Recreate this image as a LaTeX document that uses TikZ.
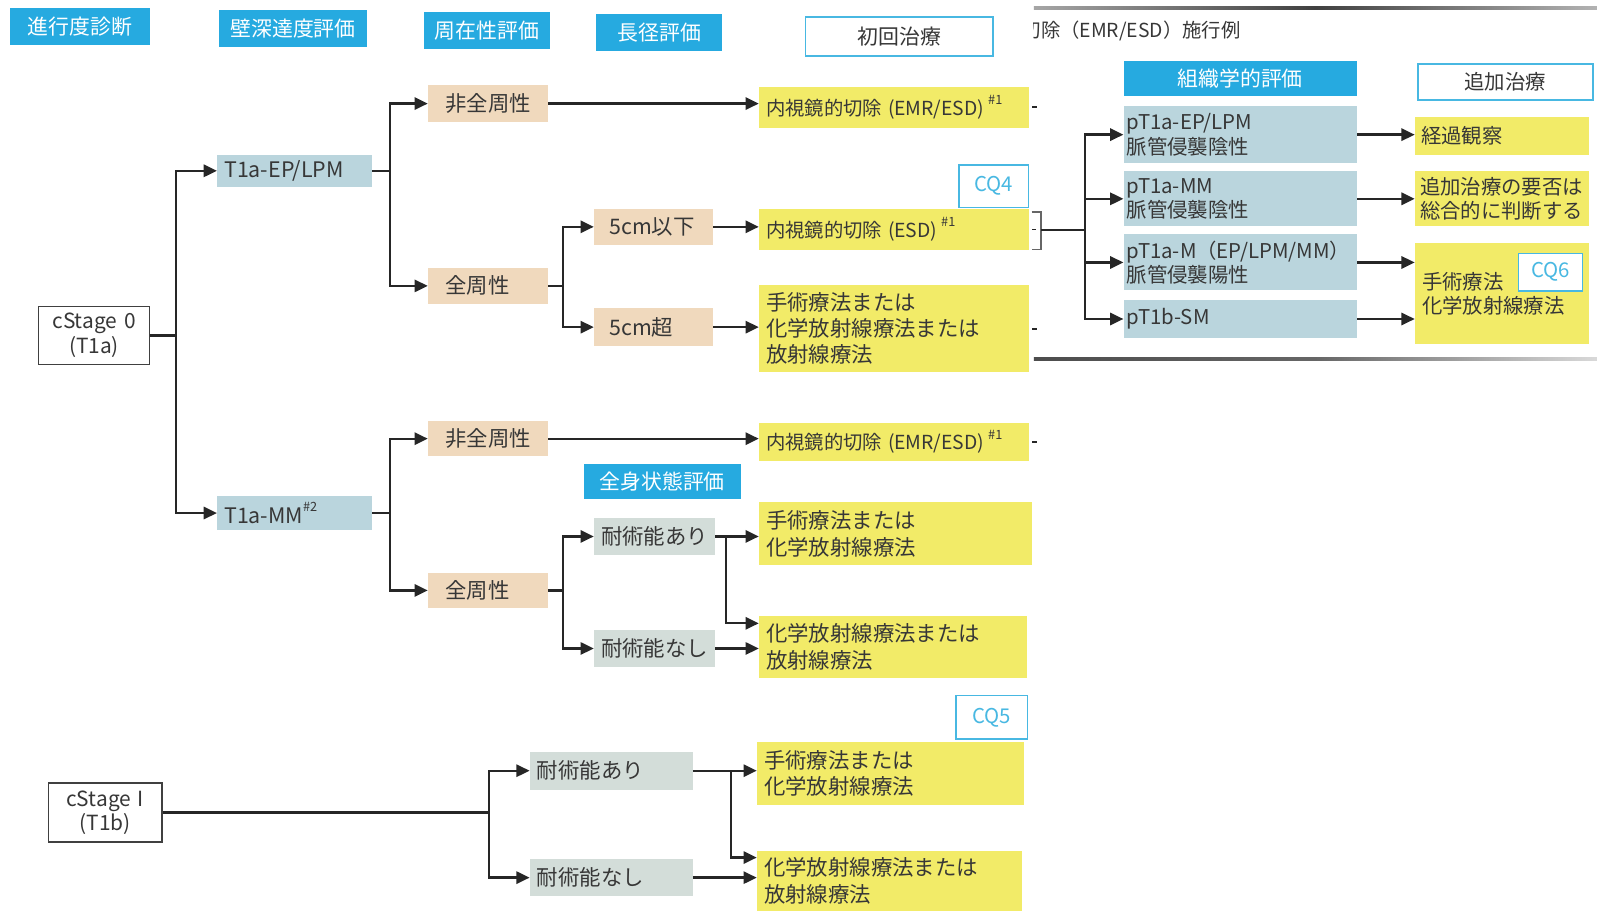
\documentclass[tikz,border=0pt]{standalone}
\usepackage{fontspec}
\newfontfamily\jp{Noto Sans CJK JP}
\usetikzlibrary{arrows.meta}
\definecolor{hdrc}{RGB}{38,170,224}
\definecolor{bgrc}{RGB}{186,213,221}
\definecolor{tanc}{RGB}{240,217,189}
\definecolor{ylwc}{RGB}{242,235,104}
\definecolor{gryc}{RGB}{211,221,217}
\definecolor{txtc}{RGB}{55,55,55}
\definecolor{cqc}{RGB}{72,184,226}
\newcommand\supmark[1]{\raisebox{0.55em}{\fontsize{12.5}{12.5}\selectfont #1}}
% name, x1, y1, x2, y2, pad, style, text
\newcommand\bx[8]{%
 \pgfmathsetmacro\bxw{#4-#2}\pgfmathsetmacro\bxh{#5-#3}\pgfmathsetmacro\bxt{#4-#2-2*#6}%
 \node[#7, anchor=north west, inner xsep=#6pt, inner ysep=0pt, minimum width=\bxw pt, minimum height=\bxh pt, text width=\bxt pt] (#1) at (#2,#3) {#8};}
\tikzset{
 fs/.style args={#1/#2}{font=\jp\fontsize{#1}{#2}\selectfont},
 basebox/.style={fs=21/26, text=txtc},
 hdrbox/.style={basebox, fill=hdrc, text=white, align=center, fs=20.5/24},
 rxbox/.style={basebox, draw=cqc, line width=1.8pt, fill=white, align=center, fs=20.5/24},
 stagebox/.style={basebox, draw=black!75, line width=1.6pt, fill=white, align=center, fs=20.5/24},
 tbox/.style={basebox, fill=bgrc, align=left},
 tanbox/.style={basebox, fill=tanc, align=left},
 gbox/.style={basebox, fill=gryc, align=left},
 ybox/.style={basebox, fill=ylwc, align=left},
 cqbox/.style={basebox, draw=cqc, line width=1.6pt, fill=white, text=cqc, align=center, fs=20/24},
 conn/.style={line width=2.3pt, draw=black!85, -{Triangle[length=13pt,width=12pt]}},
 wire/.style={line width=2.3pt, draw=black!85},
}
\begin{document}
\begin{tikzpicture}[x=1pt,y=-1pt]
\useasboundingbox (0,0) rectangle (1568,894);
\fill[white] (0,0) rectangle (1568,894);

% junction coordinates
\coordinate (j1) at (173,0);
\coordinate (j2) at (383,0);
\coordinate (j3) at (553,0);
\coordinate (j4) at (713,0);
\coordinate (j5) at (480,0);
\coordinate (j6) at (718,0);
\coordinate (j7) at (1065,0);

% headers
\bx{h1}{10}{8}{147}{44}{3}{hdrbox}{進行度診断}
\bx{h2}{215}{10}{360}{46}{3}{hdrbox}{壁深達度評価}
\bx{h3}{416}{12}{540}{48}{3}{hdrbox}{周在性評価}
\bx{h4}{585}{14}{709}{50}{3}{hdrbox}{長径評価}
\bx{h5}{790}{16}{974}{54}{3}{rxbox}{初回治療}

% cStage 0 branch
\bx{s0}{37}{300}{146}{357}{3}{stagebox}{cStage 0\\(T1a)}
\bx{ep}{213}{152}{365}{183}{7}{tbox}{T1a-EP/LPM}
\bx{mm}{213}{487}{365}{520}{7}{tbox}{T1a-MM\supmark{\#2}}
\bx{n1}{420}{83}{538}{120}{17}{tanbox}{非全周性}
\bx{z1}{420}{263}{538}{298}{17}{tanbox}{全周性}
\bx{a1}{583}{205}{700}{240}{15}{tanbox}{5cm以下}
\bx{b1}{583}{302}{700}{340}{15}{tanbox}{5cm超}
\bx{y1}{745}{85}{1010}{125}{7}{ybox, fs=19/22}{内視鏡的切除\hspace{0.3em}(EMR/ESD)\hspace{0.2em}\supmark{\#1}}
\bx{cq4}{941}{161}{1009}{203}{2}{cqbox}{CQ4}
\bx{y2}{745}{205}{1010}{245}{7}{ybox, fs=19/22}{内視鏡的切除\hspace{0.3em}(ESD)\hspace{0.2em}\supmark{\#1}}
\bx{y3}{745}{280}{1010}{365}{7}{ybox, fs=21/25.5}{手術療法または\\化学放射線療法または\\放射線療法}

\bx{n2}{420}{413}{538}{448}{17}{tanbox}{非全周性}
\bx{z2}{420}{562}{538}{597}{17}{tanbox}{全周性}
\bx{y4}{745}{415}{1010}{452}{7}{ybox, fs=19/22}{内視鏡的切除\hspace{0.3em}(EMR/ESD)\hspace{0.2em}\supmark{\#1}}
\bx{h8}{573}{455}{727}{490}{3}{hdrbox}{全身状態評価}
\bx{ar}{583}{508}{702}{545}{7}{gbox}{耐術能あり}
\bx{na}{583}{618}{702}{655}{7}{gbox}{耐術能なし}
\bx{y5}{745}{493}{1013}{555}{7}{ybox}{手術療法または\\化学放射線療法}
\bx{y6}{745}{605}{1008}{665}{7}{ybox}{化学放射線療法または\\放射線療法}

% cStage I branch
\bx{s1}{47}{768}{158}{826}{3}{stagebox}{cStage I\\(T1b)}
\bx{ar2}{520}{738}{680}{775}{7}{gbox}{耐術能あり}
\bx{na2}{520}{843}{680}{880}{7}{gbox}{耐術能なし}
\bx{cq5}{938}{682}{1008}{725}{2}{cqbox}{CQ5}
\bx{y7}{743}{728}{1005}{790}{7}{ybox}{手術療法または\\化学放射線療法}
\bx{y8}{743}{835}{1003}{894}{7}{ybox}{化学放射線療法または\\放射線療法}

% right panel
\shade[left color=black!35, right color=black!30, middle color=black!75] (1015,6.5) rectangle (1568,9.5);
\shade[left color=black!70, right color=black!15, middle color=black!60] (1015,351) rectangle (1568,354);
\begin{scope}
\clip (1015,14) rectangle (1320,48);
\node[anchor=west, fs=19/22, text=txtc, inner sep=0pt] (cap) at (1003,30) {切除（EMR/ESD）施行例};
\end{scope}
\bx{h6}{1103}{60}{1332}{94}{3}{hdrbox}{組織学的評価}
\bx{h7}{1391}{62}{1563}{97}{3}{rxbox, fs=20/24}{追加治療}
\bx{g1}{1103}{104}{1332}{160}{3}{tbox, fs=20/24}{pT1a-EP/LPM\\脈管侵襲陰性}
\bx{g2}{1103}{168}{1332}{222}{3}{tbox, fs=20/24}{pT1a-MM\\脈管侵襲陰性}
\bx{g3}{1103}{230}{1332}{285}{3}{tbox, fs=20/24}{pT1a-M（EP/LPM/MM）\\脈管侵襲陽性}
\bx{g4}{1103}{294}{1332}{332}{3}{tbox, fs=20/24}{pT1b-SM}
\bx{r1}{1389}{115}{1560}{152}{6}{ybox, fs=20/24}{経過観察}
\bx{r2}{1389}{168}{1560}{222}{5}{ybox, fs=20/24}{追加治療の要否は\\総合的に判断する}
\bx{r3}{1389}{238}{1560}{338}{7}{ybox, fs=20/24}{手術療法\\化学放射線療法}
\bx{cq6}{1490}{248}{1553}{285}{2}{cqbox}{CQ6}

% connectors: cStage 0
\draw[wire] (s0.east) -- (s0.east -| j1);
\draw[conn] (s0.east -| j1) |- (ep.west);
\draw[conn] (s0.east -| j1) |- (mm.west);
\draw[wire] (ep.east) -- (ep.east -| j2);
\draw[conn] (ep.east -| j2) |- (n1.west);
\draw[conn] (ep.east -| j2) |- (z1.west);
\draw[conn] (n1.east) -- (n1.east -| y1.west);
\draw[wire] (z1.east) -- (z1.east -| j3);
\draw[conn] (z1.east -| j3) |- (a1.west);
\draw[conn] (z1.east -| j3) |- (b1.west);
\draw[conn] (a1.east) -- (a1.east -| y2.west);
\draw[conn] (b1.east) -- (b1.east -| y3.west);

\draw[wire] (mm.east) -- (mm.east -| j2);
\draw[conn] (mm.east -| j2) |- (n2.west);
\draw[conn] (mm.east -| j2) |- (z2.west);
\draw[conn] (n2.east) -- (n2.east -| y4.west);
\draw[wire] (z2.east) -- (z2.east -| j3);
\draw[conn] (z2.east -| j3) |- (ar.west);
\draw[conn] (z2.east -| j3) |- (na.west);
\draw[conn] (ar.east) -- (ar.east -| y5.west);
\draw[conn] (ar.east -| j4) |- ([yshift=-7pt]y6.north west);
\draw[conn] (na.east) -- (na.east -| y6.west);

% connectors: cStage I
\draw[wire] (s1.east) -- (s1.east -| j5);
\draw[conn] (s1.east -| j5) |- (ar2.west);
\draw[conn] (s1.east -| j5) |- (na2.west);
\draw[conn] (ar2.east) -- (ar2.east -| y7.west);
\draw[conn] (ar2.east -| j6) |- ([yshift=-7pt]y8.north west);
\draw[conn] (na2.east) -- (na2.east -| y8.west);

% stubs toward right panel
\draw[wire] ([xshift=3pt]y1.east) -- ++(5,0);
\draw[wire] ([xshift=3pt]y3.east) -- ++(5,0);
\draw[wire] ([xshift=3pt]y4.east) -- ++(5,0);
\draw[wire, line width=1.4pt] ([xshift=3pt]y2.east) -- ++(4,0);
\coordinate (br) at (1022,226);
\draw[draw=black!60, line width=1.5pt] (1013,208) -- (1022,208) -- (1022,245) -- (1013,245);
\draw[wire] (br) -- (br -| j7);
\draw[conn] (br -| j7) |- (g1.west);
\draw[conn] (br -| j7) |- (g2.west);
\draw[conn] (br -| j7) |- (g3.west);
\draw[conn] (br -| j7) |- (g4.west);
\draw[conn] (g1.east) -- (g1.east -| r1.west);
\draw[conn] (g2.east) -- (g2.east -| r2.west);
\draw[conn] (g3.east) -- (g3.east -| r3.west);
\draw[conn] (g4.east) -- (g4.east -| r3.west);
\end{tikzpicture}
\end{document}
